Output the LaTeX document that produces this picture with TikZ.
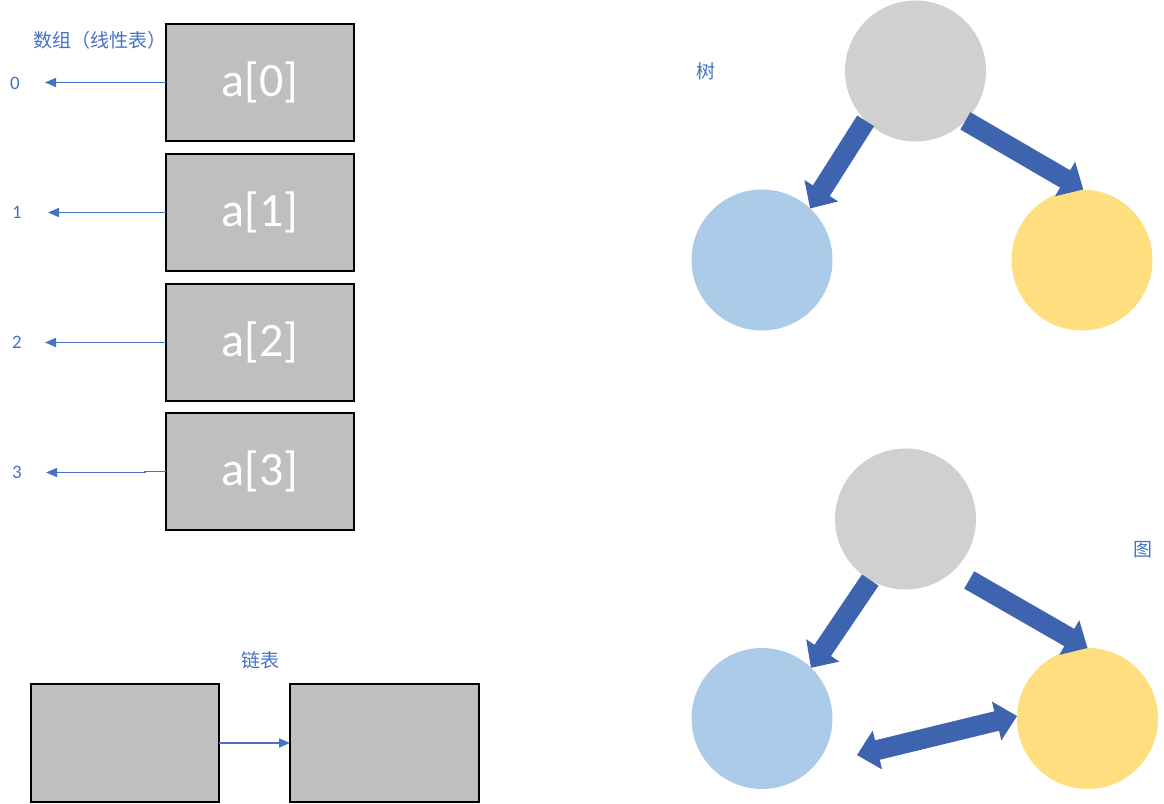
\documentclass[tikz,border=0pt]{standalone}
\usepackage{fontspec}
\setmainfont{Carlito}
\newfontfamily\cjk{Noto Sans CJK SC}
\usetikzlibrary{calc,arrows.meta}

\definecolor{cellgray}{HTML}{BFBFBF}
\definecolor{lineblue}{HTML}{4472C4}
\definecolor{arrowblue}{HTML}{3F64AF}
\definecolor{nodegray}{HTML}{D0D0D0}
\definecolor{nodeblue}{HTML}{ABCBE9}
\definecolor{nodegold}{HTML}{FEDF80}

\tikzset{
  cell/.style={draw=black, line width=1.1pt, fill=cellgray,
    minimum width=188pt, minimum height=117pt, inner sep=0pt, outer sep=0pt,
    text=white, font=\fontsize{48}{48}\selectfont},
  idx/.style={text=lineblue, font=\fontsize{19}{19}\selectfont, inner sep=0pt},
  caption/.style={text=lineblue, font=\cjk\fontsize{19}{19}\selectfont, inner sep=0pt},
  ptr/.style={draw=lineblue, line width=1.4pt, -{Triangle[length=11pt,width=9pt]}},
  ball/.style={circle, minimum size=141pt, inner sep=0pt, outer sep=0pt},
  arrowfill/.style={fill=arrowblue},
}

% thick block arrow from a tail point to a tip point
\newcommand{\blockarrow}[2]{%
  \path ($(#2)!21pt!(#1)$) coordinate (ba-h);
  \fill[arrowfill] ($(#1)!10pt!90:(#2)$) -- ($(ba-h)!10pt!-90:(#1)$)
    -- ($(ba-h)!20pt!-90:(#1)$) -- (#2) -- ($(ba-h)!20pt!90:(#1)$)
    -- ($(ba-h)!10pt!90:(#1)$) -- ($(#1)!10pt!-90:(#2)$) -- cycle;
}
% thick block arrow with heads at both ends
\newcommand{\dblockarrow}[2]{%
  \path ($(#1)!21pt!(#2)$) coordinate (ba-a) ($(#2)!21pt!(#1)$) coordinate (ba-b);
  \fill[arrowfill] (#1) -- ($(ba-a)!20pt!90:(#2)$) -- ($(ba-a)!10pt!90:(#2)$)
    -- ($(ba-b)!10pt!-90:(#1)$) -- ($(ba-b)!20pt!-90:(#1)$) -- (#2)
    -- ($(ba-b)!20pt!90:(#1)$) -- ($(ba-b)!10pt!90:(#1)$)
    -- ($(ba-a)!10pt!-90:(#2)$) -- ($(ba-a)!20pt!-90:(#2)$) -- cycle;
}

\begin{document}
\begin{tikzpicture}[x=1pt, y=-1pt]
\useasboundingbox (0,0) rectangle (1164,803);

% ---- array ----
\node[caption, anchor=west] (arrcap) at (33,40) {数组（线性表）};
\node[cell] (a0) at (260,82.5) {a[0]};
\node[cell] (a1) at (260,212.5) {a[1]};
\node[cell] (a2) at (260,342.5) {a[2]};
\node[cell] (a3) at (260,471.5) {a[3]};

\node[idx] (i0) at (15,83) {0};
\node[idx] (i1) at (17,212.5) {1};
\node[idx] (i2) at (17,342.5) {2};
\node[idx] (i3) at (17,472.5) {3};

\coordinate (p0) at (45,82.5);
\coordinate (p1) at (48,212.5);
\coordinate (p2) at (45,342.5);
\coordinate (p3) at (46,472.5);
\draw[ptr] (a0.west) -- (p0);
\draw[ptr] (a1.west) -- (p1);
\draw[ptr] (a2.west) -- (p2);
\draw[ptr] (a3.west) -- ++(-21,0) -- ++(0,1) -- (p3);

% ---- linked list ----
\node[caption] (llcap) at (260,660) {链表};
\node[cell, minimum height=118pt] (n1) at (125,743) {};
\node[cell, minimum height=118pt, minimum width=189pt] (n2) at (384.5,743) {};
\draw[ptr] (n1.east) -- (n2.west);

% ---- tree ----
\node[caption] (treecap) at (706,71) {树};
\node[ball, fill=nodegray] (troot) at (915.5,71) {};
\node[ball, fill=nodeblue] (tleft) at (762,260) {};
\node[ball, fill=nodegold] (tright) at (1082,260) {};
\blockarrow{troot.225}{tleft.47}
\blockarrow{troot.-45}{tright.89}

% ---- graph ----
\node[caption] (graphcap) at (1143,550) {图};
\node[ball, fill=nodegray] (groot) at (905.5,519) {};
\node[ball, fill=nodeblue] (gleft) at (762,718.5) {};
\node[ball, fill=nodegold] (gright) at (1087.5,718.5) {};
\coordinate (gtail) at ([shift={(13,12)}]groot.-44);
\coordinate (gend) at (857,755);
\blockarrow{groot.240}{gleft.46}
\blockarrow{gtail}{gright.90}
\dblockarrow{gend}{gright.178}
\end{tikzpicture}
\end{document}
